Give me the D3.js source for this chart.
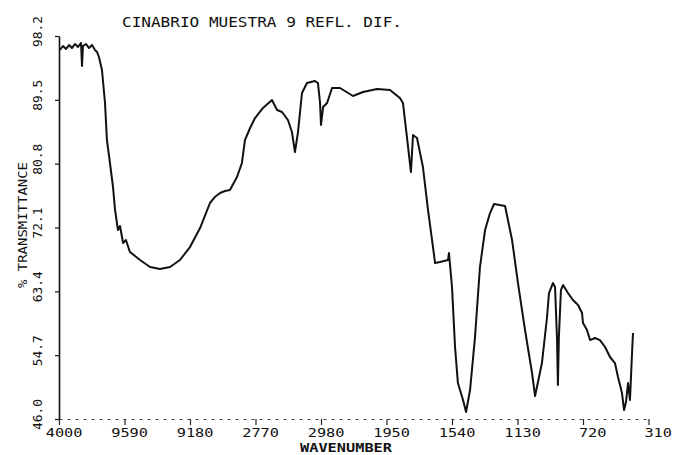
<!DOCTYPE html>
<html>
<head>
<meta charset="utf-8">
<title>CINABRIO MUESTRA 9 REFL. DIF.</title>
<script src="https://d3js.org/d3.v7.min.js"></script>
<style>
  body { margin: 0; padding: 0; background: #fff; }
  svg text { font-family: "DejaVu Sans Mono", "Liberation Mono", monospace; fill: #111; }
</style>
</head>
<body>
<div id="chart"></div>
<script>
// spectrum: wavenumber (cm-1) and % transmittance
var wavenumber = [3994, 3975, 3956, 3937, 3919, 3900, 3881, 3862, 3856, 3850,
  3831, 3812, 3793, 3775, 3762, 3750, 3731, 3712, 3700, 3681,
  3662, 3649, 3631, 3618, 3599, 3581, 3556, 3524, 3493, 3430,
  3368, 3305, 3243, 3180, 3117, 3055, 3024, 2992, 2961, 2930,
  2886, 2855, 2836, 2804, 2773, 2723, 2667, 2635, 2604, 2567,
  2542, 2523, 2504, 2479, 2448, 2398, 2379, 2366, 2360, 2347,
  2322, 2291, 2241, 2160, 2097, 2009, 1928, 1866, 1847, 1822,
  1797, 1784, 1759, 1722, 1690, 1659, 1646, 1615, 1565, 1559,
  1540, 1521, 1503, 1471, 1452, 1427, 1396, 1365, 1333, 1302,
  1277, 1208, 1164, 1127, 1083, 1039, 1020, 977, 945, 933,
  908, 895, 883, 877, 871, 858, 845, 814, 783, 751,
  726, 720, 695, 676, 645, 614, 582, 551, 520, 501,
  476, 463, 451, 438, 426, 413, 407];
var transmittance = [96.29, 96.84, 96.43, 96.97, 96.56, 97.11, 96.70, 97.25, 94.11, 96.84,
  97.11, 96.56, 96.97, 96.29, 96.02, 95.34, 93.57, 89.07, 84.02, 80.89,
  77.62, 74.48, 71.76, 72.30, 69.99, 70.39, 68.76, 68.21, 67.67, 66.71,
  66.44, 66.71, 67.67, 69.44, 72.03, 75.44, 76.26, 76.80, 77.07, 77.21,
  78.98, 80.89, 84.02, 85.66, 87.02, 88.39, 89.48, 88.11, 87.84, 86.75,
  85.11, 82.39, 85.11, 90.43, 91.79, 92.07, 91.79, 89.07, 86.07, 88.52,
  89.07, 91.11, 91.11, 90.02, 90.57, 90.98, 90.84, 89.75, 89.07, 84.43,
  79.66, 84.71, 84.30, 80.34, 74.48, 69.44, 67.26, 67.40, 67.67, 68.62,
  63.99, 55.81, 50.90, 48.59, 46.95, 49.95, 57.17, 66.71, 71.76, 74.07,
  75.30, 75.03, 70.39, 64.53, 58.13, 52.27, 49.13, 53.63, 59.90, 63.17,
  64.53, 63.99, 57.17, 50.63, 57.17, 63.58, 64.26, 63.17, 62.22, 61.53,
  60.44, 59.08, 58.13, 56.76, 57.04, 56.76, 55.81, 54.45, 53.63, 51.72,
  49.54, 47.22, 48.31, 50.90, 48.59, 55.00, 57.72];

// axis ticks as printed by the plotter
var xTicks = [4000, 3590, 3180, 2770, 2360, 1950, 1540, 1130, 720, 310];
var xTickLabels = ["4000", "9590", "9180", "2770", "2980", "1950", "1540", "1130", "720", "310"];
var yTicks = [98.2, 89.5, 80.8, 72.1, 63.4, 54.7, 46.0];
var yTickLabels = ["98.2", "89.5", "80.8", "72.1", "63.4", "54.7", "46.0"];

var W = 673, H = 455;
var margin = {left: 59, right: 648.5, top: 36, bottom: 419};

var svg = d3.select("#chart").append("svg")
  .attr("width", W)
  .attr("height", H);

var x = d3.scaleLinear().domain([4000, 310]).range([margin.left, margin.right]);
var y = d3.scaleLinear().domain([46.0, 98.2]).range([margin.bottom, margin.top]);

// title
svg.append("text")
  .attr("x", 122).attr("y", 27)
  .attr("textLength", 280).attr("lengthAdjust", "spacingAndGlyphs")
  .style("font-size", "14px")
  .text("CINABRIO MUESTRA 9 REFL. DIF.");

// x axis (dotted baseline)
var xAxis = svg.append("g")
  .attr("transform", "translate(0," + margin.bottom + ")")
  .call(d3.axisBottom(x).tickValues(xTicks)
    .tickFormat(function(d, i) { return xTickLabels[i]; })
    .tickSize(6).tickSizeOuter(0));
xAxis.select(".domain")
  .attr("stroke", "#444")
  .attr("stroke-dasharray", "3,5");
xAxis.selectAll(".tick line").attr("stroke", "#222").attr("stroke-width", 1.2);
xAxis.selectAll(".tick text")
  .attr("text-anchor", "end")
  .attr("x", 23)
  .attr("y", 18)
  .attr("dy", 0)
  .style("font-size", "13px")
  .attr("textLength", function(d, i) { return xTickLabels[i].length * 9.2; })
  .attr("lengthAdjust", "spacingAndGlyphs");

svg.append("text")
  .attr("x", 300).attr("y", 452)
  .attr("textLength", 92).attr("lengthAdjust", "spacingAndGlyphs")
  .style("font-size", "12px")
  .style("font-weight", "bold")
  .text("WAVENUMBER");

// y axis
var yAxis = svg.append("g")
  .attr("transform", "translate(" + margin.left + ",0)")
  .call(d3.axisLeft(y).tickValues(yTicks)
    .tickFormat(function(d, i) { return yTickLabels[i]; })
    .tickSize(4).tickSizeOuter(0));
yAxis.select(".domain").attr("stroke", "#111").attr("stroke-width", 1.6);
yAxis.selectAll(".tick line").attr("stroke", "#111").attr("stroke-width", 1.2);
yAxis.selectAll(".tick text")
  .attr("text-anchor", "middle")
  .attr("x", 0).attr("y", 0).attr("dy", 0)
  .attr("transform", "translate(-17,-5) rotate(-90)")
  .style("font-size", "12.5px")
  .attr("textLength", 31)
  .attr("lengthAdjust", "spacingAndGlyphs");

svg.append("text")
  .attr("transform", "translate(27,225) rotate(-90)")
  .attr("text-anchor", "middle")
  .attr("textLength", 126).attr("lengthAdjust", "spacingAndGlyphs")
  .style("font-size", "12.5px")
  .text("% TRANSMITTANCE");

// spectrum trace
var pts = wavenumber.map(function(d, i) { return [d, transmittance[i]]; });
var line = d3.line()
  .x(function(d) { return x(d[0]); })
  .y(function(d) { return y(d[1]); });

svg.append("path")
  .datum(pts)
  .attr("fill", "none")
  .attr("stroke", "#111")
  .attr("stroke-width", 2)
  .attr("stroke-linejoin", "round")
  .attr("d", line);
</script>
</body>
</html>
